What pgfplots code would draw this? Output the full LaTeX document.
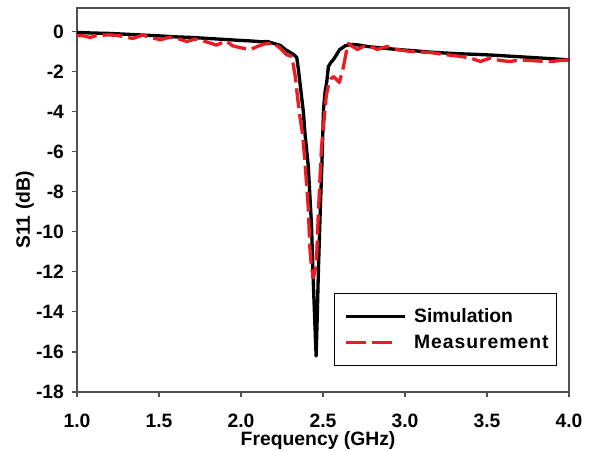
\documentclass[border=0pt]{standalone}
\usepackage{pgfplots}
\pgfplotsset{compat=1.18}
\usepackage{fontspec}
\setmainfont{Liberation Sans}
\definecolor{measred}{RGB}{236,28,36}
\definecolor{framegray}{RGB}{80,80,80}
\pgfplotsset{shortlegend/.style={legend image code/.code={\path (-5pt,0pt) (46pt,0pt);\draw[##1] (0pt,0pt) -- (35pt,0pt);}}}
\begin{document}
\begin{tikzpicture}
\useasboundingbox (-57.75pt,-43.5pt) rectangle (385.5pt,294pt);
\begin{axis}[
  scale only axis,
  width=369pt, height=288pt,
  xmin=1, xmax=4, ymin=-18, ymax=1.17,
  xtick={1,1.5,2,2.5,3,3.5,4},
  ytick={-18,-16,-14,-12,-10,-8,-6,-4,-2,0},
  xticklabel style={/pgf/number format/fixed, /pgf/number format/fixed zerofill, /pgf/number format/precision=1, inner sep=0pt, yshift=-12.6pt},
  /pgf/number format/assume math mode=true,
  ticklabel style={font=\bfseries\fontsize{14.5}{17}\selectfont, text=black},
  yticklabel style={xshift=-2.5pt},
  tick align=outside,
  major tick length=3.75pt,
  xtick pos=bottom, ytick pos=left,
  axis line style={framegray, line width=0.9pt},
  tick style={framegray, line width=0.9pt},
  xlabel={Frequency (GHz)},
  ylabel={S11 (dB)},
  label style={font=\bfseries\fontsize{14.5}{17}\selectfont},
  xlabel style={at={(axis description cs:0.49,0)}, anchor=center, inner sep=0pt, yshift=-36.3pt},
  ylabel style={at={(axis description cs:-0.1057,0.474)}, anchor=center},
  legend style={at={(0.9756,0.2587)}, anchor=north east, draw=black, line width=0.75pt,
    font=\bfseries\fontsize{14.5}{17}\selectfont, inner xsep=2pt, inner ysep=7.25pt, row sep=0pt,
    nodes={inner xsep=4pt, inner ysep=4pt, text depth=0.15em},
    cells={anchor=west}},
  legend image code/.code={\path (-5pt,0pt) (46pt,0pt);\draw[#1] (0pt,0pt) -- (44pt,0pt);},
]
\addplot[black, line width=2.5pt, line join=round] coordinates {
(1.00,-0.05) (1.10,-0.08) (1.20,-0.10) (1.30,-0.14) (1.40,-0.18) (1.50,-0.22)
(1.60,-0.27) (1.70,-0.30) (1.80,-0.35) (1.90,-0.40) (2.00,-0.45) (2.05,-0.47)
(2.10,-0.50) (2.13,-0.52) (2.16,-0.50) (2.20,-0.60) (2.24,-0.70) (2.27,-0.90)
(2.30,-1.05) (2.32,-1.15) (2.34,-1.30) (2.35,-1.9) (2.36,-2.6) (2.38,-4.0)
(2.39,-5.1) (2.41,-6.7) (2.43,-9.7) (2.438,-11.9) (2.45,-14.5) (2.458,-16.2)
(2.465,-14.2) (2.472,-11.9) (2.483,-9.0) (2.493,-6.7) (2.503,-3.9) (2.513,-3.0)
(2.523,-2.5) (2.533,-1.75) (2.548,-1.55) (2.564,-1.4) (2.58,-1.2) (2.60,-0.92)
(2.635,-0.72) (2.67,-0.65) (2.71,-0.67) (2.77,-0.75) (2.85,-0.82) (2.95,-0.9)
(3.05,-0.96) (3.15,-1.03) (3.25,-1.08) (3.35,-1.12) (3.45,-1.15) (3.55,-1.19)
(3.65,-1.24) (3.75,-1.29) (3.85,-1.34) (3.95,-1.39) (4.00,-1.42)
};
\addlegendentry{Simulation}
\addplot[measred, line width=2.5pt, dash pattern=on 15pt off 4.5pt, line join=round, shortlegend] coordinates {
(1.00,-0.20) (1.04,-0.22) (1.08,-0.30) (1.12,-0.20) (1.20,-0.17) (1.26,-0.22)
(1.34,-0.35) (1.40,-0.18) (1.45,-0.30) (1.51,-0.42) (1.55,-0.32) (1.59,-0.28)
(1.63,-0.40) (1.67,-0.50) (1.72,-0.38) (1.75,-0.42) (1.80,-0.55) (1.85,-0.68)
(1.91,-0.48) (1.95,-0.72) (2.00,-0.82) (2.06,-0.90) (2.10,-0.75) (2.14,-0.63)
(2.20,-0.58) (2.24,-0.85) (2.28,-1.17) (2.31,-1.25) (2.33,-2.2) (2.345,-3.3)
(2.36,-4.3) (2.375,-5.1) (2.39,-6.5) (2.41,-8.8) (2.42,-10.8) (2.43,-11.8)
(2.442,-12.3) (2.452,-11.9) (2.462,-11.1) (2.472,-9.0) (2.49,-5.9) (2.50,-5.0)
(2.52,-3.2) (2.533,-2.7) (2.55,-2.35) (2.565,-2.25) (2.60,-2.55) (2.625,-1.75)
(2.64,-1.1) (2.655,-0.6) (2.68,-0.75) (2.71,-0.9) (2.74,-0.78) (2.77,-0.67)
(2.80,-0.78) (2.83,-0.9) (2.86,-0.82) (2.89,-0.75) (2.92,-0.85) (2.95,-0.9)
(3.03,-1.0) (3.15,-1.05) (3.26,-1.17) (3.34,-1.25) (3.40,-1.33) (3.46,-1.5)
(3.52,-1.33) (3.58,-1.45) (3.64,-1.5) (3.70,-1.42) (3.76,-1.45) (3.82,-1.48)
(3.89,-1.5) (3.95,-1.45) (4.00,-1.42)
};
\addlegendentry{\addfontfeature{LetterSpace=5}Measurement}
\end{axis}
\end{tikzpicture}
\end{document}
